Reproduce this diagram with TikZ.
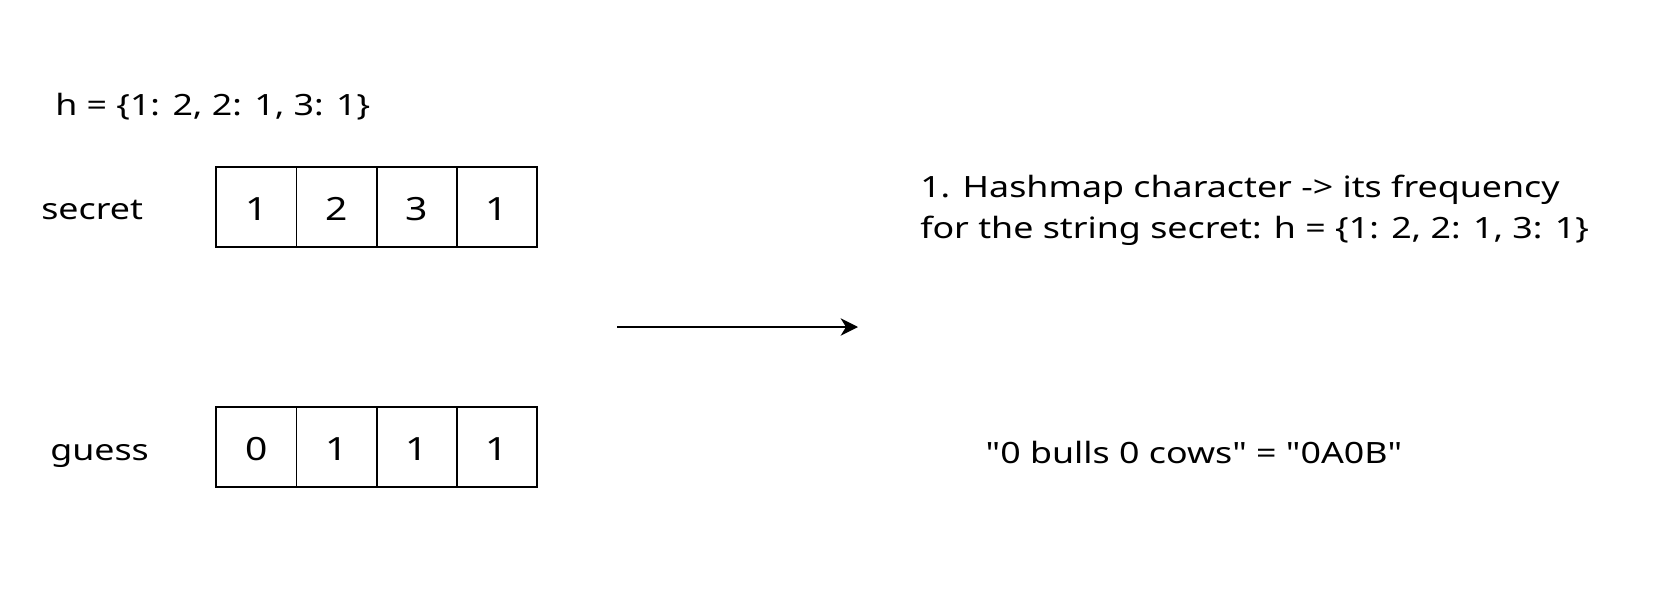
\documentclass[tikz,border=0pt]{standalone}
\usepackage{fontspec}
\setmainfont[Ligatures=TeXOff, FakeStretch=1.22]{Noto Sans}
\usetikzlibrary{arrows.meta}
\newcommand{\celltext}[1]{\raisebox{-10.4pt}[0pt][0pt]{#1}}
\tikzset{
  cell/.style={draw, line width=1.3pt, minimum width=60.2pt, minimum height=60pt, inner sep=0pt, font=\fontsize{24}{28}\selectfont},
  lbl/.style={inner sep=0pt, font=\fontsize{22}{26}\selectfont},
  conn/.style={line width=1.3pt, -{Stealth[length=13pt, width=13pt, inset=4pt]}}
}
\begin{document}
\begin{tikzpicture}[x=0.75pt, y=-0.75pt]
\useasboundingbox (0,0) rectangle (1654,614);
\node[lbl, anchor=west] (h) at (55,107) {h = \{1: 2, 2: 1, 3: 1\}};
\node[lbl, anchor=west] (secret) at (41,210) {secret};
\node[lbl, anchor=west] (guess) at (50,456) {guess};
\node[cell] (s1) at (256.3,207) {\celltext{1}};
\node[cell] (s2) at (336.5,207) {\celltext{2}};
\node[cell] (s3) at (416.8,207) {\celltext{3}};
\node[cell] (s4) at (497,207) {\celltext{1}};
\node[cell] (g1) at (256.3,447) {\celltext{0}};
\node[cell] (g2) at (336.5,447) {\celltext{1}};
\node[cell] (g3) at (416.8,447) {\celltext{1}};
\node[cell] (g4) at (497,447) {\celltext{1}};
\coordinate (a0) at (617,327);
\coordinate (a1) at (858,327);
\draw[conn] (a0) -- (a1);
\node[lbl, anchor=west, align=left, font=\fontsize{22}{30.5}\selectfont] (note) at (920,210) {1. Hashmap character -> its frequency\\for the string secret: h = \{1: 2, 2: 1, 3: 1\}};
\node[lbl] (result) at (1194,452) {"0 bulls 0 cows" = "0A0B"};
\end{tikzpicture}
\end{document}
